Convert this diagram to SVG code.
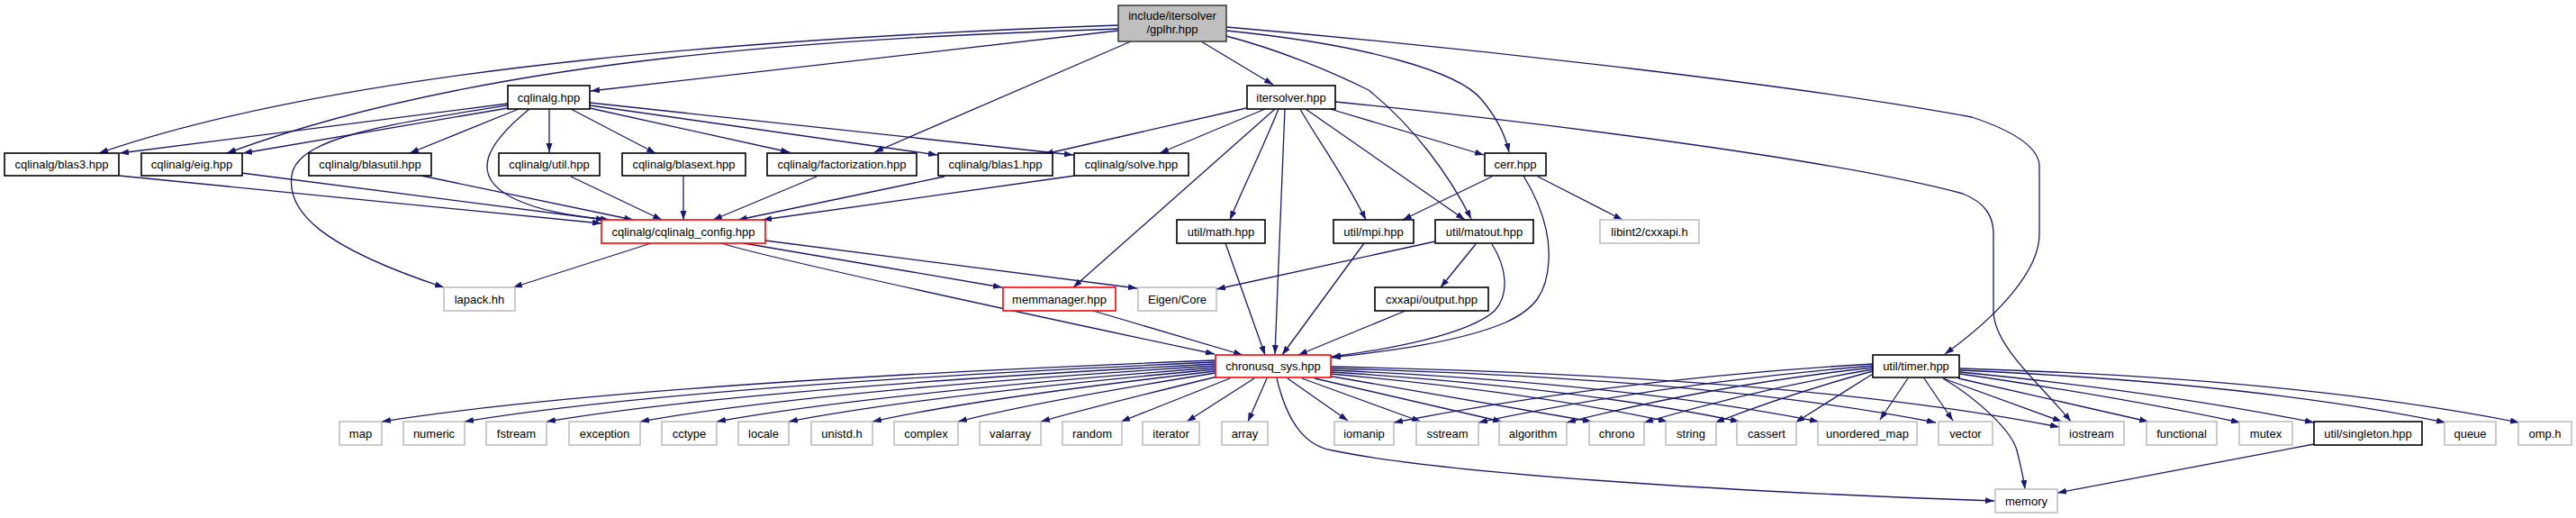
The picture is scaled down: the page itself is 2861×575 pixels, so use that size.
<svg xmlns="http://www.w3.org/2000/svg" width="2861" height="575" viewBox="0 0 2861 575">
<style>
.n rect{fill:#fff;stroke:#000;stroke-width:1.6}
.x rect{stroke:#bfbfbf}
.r rect{stroke:#ff0000}
.root rect{fill:#bfbfbf;stroke:#404040}
text{font-family:"Liberation Sans",Arial,sans-serif;font-size:13px;text-anchor:middle;fill:#000}
#edges path{fill:none;stroke:#191970;stroke-width:1.3;marker-end:url(#a)}
</style>
<defs>
<marker id="a" markerUnits="userSpaceOnUse" markerWidth="11" markerHeight="8" refX="10" refY="3.5" orient="auto"><path d="M0,0L10,3.5L0,7z" fill="#191970"/></marker>
</defs>
<rect width="2861" height="575" fill="#fff"/>
<g id="edges">
<path d="M1242,34 C1000,60 800,85 656,101"/>
<path d="M1242,28 C900,40 400,70 110,170"/>
<path d="M1242,32 C950,42 550,60 252,170"/>
<path d="M1256,46 L971,169"/>
<path d="M1334,46 L1414,94"/>
<path d="M1362,40 C1420,55 1480,80 1520,100 C1570,140 1610,195 1634,243"/>
<path d="M1362,34 C1520,50 1620,80 1645,110 C1662,130 1672,150 1676,169"/>
<path d="M1362,30 C1650,55 2000,95 2190,130 C2250,150 2265,170 2265,185 L2265,260 C2265,300 2220,350 2160,393"/>
<path d="M564,115 L133,170"/>
<path d="M564,120 L270,170"/>
<path d="M564,117 C430,138 338,152 325,190 C314,235 360,275 493,319"/>
<path d="M576,121 L455,170"/>
<path d="M610,121 L610,169"/>
<path d="M588,121 C540,160 520,195 570,220 C600,235 640,240 677,244"/>
<path d="M634,121 L728,170"/>
<path d="M655,120 L877,169"/>
<path d="M655,117 L1041,172"/>
<path d="M655,114 L1192,172"/>
<path d="M132,195 L668,248"/>
<path d="M268,192 L672,244"/>
<path d="M468,195 L703,244"/>
<path d="M634,196 L735,244"/>
<path d="M759,196 L759,244"/>
<path d="M907,196 L792,244"/>
<path d="M1049,196 L820,244"/>
<path d="M1194,195 L847,244"/>
<path d="M1384,120 L1160,171"/>
<path d="M1405,121 L1288,170"/>
<path d="M1416,121 L1192,319"/>
<path d="M1420,121 C1400,170 1380,210 1366,244"/>
<path d="M1427,121 L1416,393"/>
<path d="M1444,121 C1460,150 1490,190 1517,244"/>
<path d="M1450,121 L1627,244"/>
<path d="M1474,120 L1648,172"/>
<path d="M1483,113 C1750,140 2050,180 2180,215 C2205,225 2214,240 2214,260 L2214,345 C2214,385 2270,430 2300,468"/>
<path d="M1657,196 L1558,244"/>
<path d="M1708,196 L1802,244"/>
<path d="M1692,195 C1712,228 1722,260 1720,290 C1718,325 1705,343 1672,358 C1620,380 1540,390 1479,397"/>
<path d="M1594,268 L1351,321"/>
<path d="M1639,271 L1600,319"/>
<path d="M1657,271 C1672,295 1678,325 1660,345 C1630,372 1540,388 1479,396"/>
<path d="M1515,270 L1424,394"/>
<path d="M1361,270 L1405,394"/>
<path d="M1561,345 L1442,394"/>
<path d="M723,270 L570,319"/>
<path d="M801,270 C850,285 1100,340 1349,393"/>
<path d="M826,270 L1113,319"/>
<path d="M850,267 L1263,320"/>
<path d="M1214,345 L1380,394"/>
<path d="M1350,400 Q700,425 424,468"/>
<path d="M1350,402 Q760,428 516,468"/>
<path d="M1350,404 Q820,432 607,468"/>
<path d="M1350,406 Q900,434 711,468"/>
<path d="M1350,408 Q960,438 796,468"/>
<path d="M1350,410 Q1020,440 876,468"/>
<path d="M1350,412 Q1080,443 969,468"/>
<path d="M1350,414 Q1150,446 1064,468"/>
<path d="M1352,418 Q1220,450 1156,468"/>
<path d="M1366,420 L1245,468"/>
<path d="M1393,420 L1318,468"/>
<path d="M1407,420 L1386,468"/>
<path d="M1430,420 L1497,467"/>
<path d="M1446,420 L1578,468"/>
<path d="M1460,420 L1668,468"/>
<path d="M1474,417 L1768,468"/>
<path d="M1478,415 Q1700,435 1852,468"/>
<path d="M1478,413 Q1750,430 1932,468"/>
<path d="M1478,411 Q1800,425 2020,468"/>
<path d="M1478,409 Q1900,420 2150,469"/>
<path d="M1478,407 Q2000,418 2287,474"/>
<path d="M1418,420 C1430,470 1450,495 1480,500 C1600,525 1900,545 2215,556"/>
<path d="M2080,404 Q1800,420 1548,469"/>
<path d="M2080,406 Q1850,425 1642,469"/>
<path d="M2080,408 Q1900,428 1740,469"/>
<path d="M2080,410 Q1950,432 1826,469"/>
<path d="M2080,412 Q1990,436 1905,469"/>
<path d="M2080,415 L1994,469"/>
<path d="M2119,420 L2088,466"/>
<path d="M2137,420 L2169,467"/>
<path d="M2158,420 L2290,468"/>
<path d="M2158,420 C2200,445 2235,480 2240,500 C2245,520 2248,535 2249,543"/>
<path d="M2175,420 L2386,468"/>
<path d="M2177,415 Q2350,440 2488,469"/>
<path d="M2177,413 Q2400,435 2570,469"/>
<path d="M2177,411 Q2500,425 2716,469"/>
<path d="M2177,409 Q2550,420 2798,469"/>
<path d="M2570,493 L2285,547"/>
</g>
<g id="gplhr" class="n root"><rect x="1242" y="6" width="120" height="40"/><text x="1302" y="22">include/itersolver</text><text x="1302" y="37">/gplhr.hpp</text></g>
<g id="cqlinalg" class="n"><rect x="564" y="95" width="91" height="26"/><text x="609.5" y="112.5">cqlinalg.hpp</text></g>
<g id="itersolver" class="n"><rect x="1385" y="95" width="98" height="26"/><text x="1434" y="112.5">itersolver.hpp</text></g>
<g id="blas3" class="n"><rect x="5" y="170" width="127" height="25"/><text x="68.5" y="187">cqlinalg/blas3.hpp</text></g>
<g id="eig" class="n"><rect x="157" y="170" width="112" height="25"/><text x="213" y="187">cqlinalg/eig.hpp</text></g>
<g id="blasutil" class="n"><rect x="343" y="170" width="136" height="25"/><text x="411" y="187">cqlinalg/blasutil.hpp</text></g>
<g id="util" class="n"><rect x="554" y="170" width="112" height="25"/><text x="610" y="187">cqlinalg/util.hpp</text></g>
<g id="blasext" class="n"><rect x="691" y="170" width="137" height="25"/><text x="759.5" y="187">cqlinalg/blasext.hpp</text></g>
<g id="factorization" class="n"><rect x="852" y="170" width="166" height="25"/><text x="935" y="187">cqlinalg/factorization.hpp</text></g>
<g id="blas1" class="n"><rect x="1042" y="170" width="127" height="25"/><text x="1105.5" y="187">cqlinalg/blas1.hpp</text></g>
<g id="solve" class="n"><rect x="1193" y="170" width="127" height="25"/><text x="1256.5" y="187">cqlinalg/solve.hpp</text></g>
<g id="cerr" class="n"><rect x="1649" y="170" width="68" height="25"/><text x="1683" y="187">cerr.hpp</text></g>
<g id="config" class="n r"><rect x="668" y="244" width="182" height="26"/><text x="759" y="261.5">cqlinalg/cqlinalg_config.hpp</text></g>
<g id="math" class="n"><rect x="1307" y="244" width="98" height="26"/><text x="1356" y="261.5">util/math.hpp</text></g>
<g id="mpi" class="n"><rect x="1481" y="244" width="89" height="26"/><text x="1525.5" y="261.5">util/mpi.hpp</text></g>
<g id="matout" class="n"><rect x="1594" y="244" width="109" height="26"/><text x="1648.5" y="261.5">util/matout.hpp</text></g>
<g id="libint2" class="n x"><rect x="1777" y="244" width="110" height="26"/><text x="1832" y="261.5">libint2/cxxapi.h</text></g>
<g id="lapack" class="n x"><rect x="493" y="319" width="79" height="26"/><text x="532.5" y="336.5">lapack.hh</text></g>
<g id="memmanager" class="n r"><rect x="1114" y="319" width="125" height="26"/><text x="1176.5" y="336.5">memmanager.hpp</text></g>
<g id="eigen" class="n x"><rect x="1264" y="319" width="87" height="26"/><text x="1307.5" y="336.5">Eigen/Core</text></g>
<g id="output" class="n"><rect x="1527" y="319" width="126" height="26"/><text x="1590" y="336.5">cxxapi/output.hpp</text></g>
<g id="chronusq" class="n r"><rect x="1350" y="394" width="128" height="25"/><text x="1414" y="411">chronusq_sys.hpp</text></g>
<g id="timer" class="n"><rect x="2080" y="394" width="96" height="25"/><text x="2128" y="411">util/timer.hpp</text></g>
<g id="map" class="n x"><rect x="377" y="468" width="47" height="26"/><text x="400.5" y="485.5">map</text></g>
<g id="numeric" class="n x"><rect x="448" y="468" width="68" height="26"/><text x="482" y="485.5">numeric</text></g>
<g id="fstream" class="n x"><rect x="540" y="468" width="67" height="26"/><text x="573.5" y="485.5">fstream</text></g>
<g id="exception" class="n x"><rect x="632" y="468" width="79" height="26"/><text x="671.5" y="485.5">exception</text></g>
<g id="cctype" class="n x"><rect x="735" y="468" width="61" height="26"/><text x="765.5" y="485.5">cctype</text></g>
<g id="locale" class="n x"><rect x="820" y="468" width="56" height="26"/><text x="848" y="485.5">locale</text></g>
<g id="unistd" class="n x"><rect x="901" y="468" width="68" height="26"/><text x="935" y="485.5">unistd.h</text></g>
<g id="complex" class="n x"><rect x="993" y="468" width="71" height="26"/><text x="1028.5" y="485.5">complex</text></g>
<g id="valarray" class="n x"><rect x="1088" y="468" width="68" height="26"/><text x="1122" y="485.5">valarray</text></g>
<g id="random" class="n x"><rect x="1180" y="468" width="66" height="26"/><text x="1213" y="485.5">random</text></g>
<g id="iterator" class="n x"><rect x="1269" y="468" width="63" height="26"/><text x="1300.5" y="485.5">iterator</text></g>
<g id="array" class="n x"><rect x="1357" y="468" width="51" height="26"/><text x="1382.5" y="485.5">array</text></g>
<g id="iomanip" class="n x"><rect x="1482" y="468" width="66" height="26"/><text x="1515" y="485.5">iomanip</text></g>
<g id="sstream" class="n x"><rect x="1573" y="468" width="69" height="26"/><text x="1607.5" y="485.5">sstream</text></g>
<g id="algorithm" class="n x"><rect x="1665" y="468" width="75" height="26"/><text x="1702.5" y="485.5">algorithm</text></g>
<g id="chrono" class="n x"><rect x="1765" y="468" width="61" height="26"/><text x="1795.5" y="485.5">chrono</text></g>
<g id="string" class="n x"><rect x="1850" y="468" width="56" height="26"/><text x="1878" y="485.5">string</text></g>
<g id="cassert" class="n x"><rect x="1929" y="468" width="66" height="26"/><text x="1962" y="485.5">cassert</text></g>
<g id="unordered_map" class="n x"><rect x="2019" y="468" width="110" height="26"/><text x="2074" y="485.5">unordered_map</text></g>
<g id="vector" class="n x"><rect x="2153" y="468" width="60" height="26"/><text x="2183" y="485.5">vector</text></g>
<g id="iostream" class="n x"><rect x="2287" y="468" width="72" height="26"/><text x="2323" y="485.5">iostream</text></g>
<g id="functional" class="n x"><rect x="2384" y="468" width="78" height="26"/><text x="2423" y="485.5">functional</text></g>
<g id="mutex" class="n x"><rect x="2487" y="468" width="59" height="26"/><text x="2516.5" y="485.5">mutex</text></g>
<g id="singleton" class="n"><rect x="2570" y="468" width="120" height="26"/><text x="2630" y="485.5">util/singleton.hpp</text></g>
<g id="queue" class="n x"><rect x="2715" y="468" width="57" height="26"/><text x="2743.5" y="485.5">queue</text></g>
<g id="omp" class="n x"><rect x="2797" y="468" width="59" height="26"/><text x="2826.5" y="485.5">omp.h</text></g>
<g id="memory" class="n x"><rect x="2216" y="543" width="69" height="26"/><text x="2250.5" y="560.5">memory</text></g>
</svg>
